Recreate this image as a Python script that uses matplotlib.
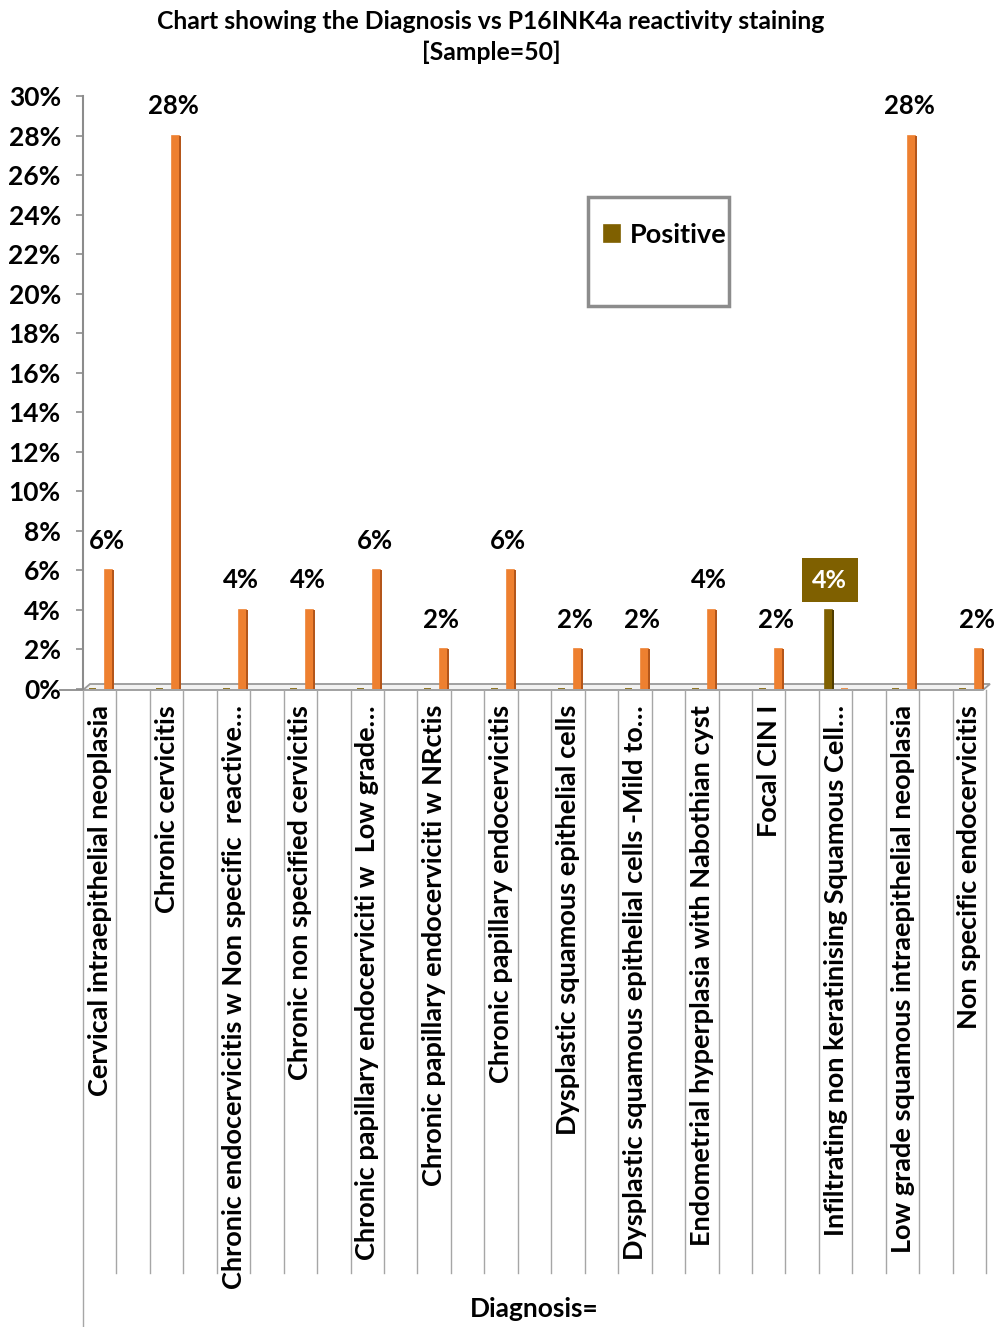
import matplotlib
matplotlib.use("Agg")
import matplotlib.pyplot as plt
from matplotlib.patches import Rectangle, Polygon
from matplotlib.lines import Line2D

plt.rcParams['font.family'] = ['Lato', 'DejaVu Sans']
plt.rcParams['font.weight'] = 'bold'

categories = [
    "Cervical intraepithelial neoplasia",
    "Chronic cervicitis",
    "Chronic endocervicitis w Non specific  reactive…",
    "Chronic non specified cervicitis",
    "Chronic papillary endocerviciti w  Low grade…",
    "Chronic papillary endocerviciti w NRctis",
    "Chronic papillary endocervicitis",
    "Dysplastic squamous epithelial cells",
    "Dysplastic squamous epithelial cells -Mild to…",
    "Endometrial hyperplasia with Nabothian cyst",
    "Focal CIN I",
    "Infiltrating non keratinising Squamous Cell…",
    "Low grade squamous intraepithelial neoplasia",
    "Non specific endocervicitis",
]
positive = [0, 0, 0, 0, 0, 0, 0, 0, 0, 0, 0, 4, 0, 0]
negative = [6, 28, 4, 4, 6, 2, 6, 2, 2, 4, 2, 0, 28, 2]
yticks = list(range(0, 31, 2))
title = "Chart showing the Diagnosis vs P16INK4a reactivity staining\n[Sample=50]"
xlabel = "Diagnosis="

W, H = 995, 1327
fig = plt.figure(figsize=(W / 100, H / 100), dpi=100)

def fx(px):
    return px / W

def fy(py):
    return 1 - py / H

ax_l, ax_r, ax_t, ax_b = 83, 990, 96, 689
ax = fig.add_axes([fx(ax_l), fy(ax_b), fx(ax_r) - fx(ax_l), fy(ax_t) - fy(ax_b)])
catw = 66.9  # px per category
ax.set_xlim(-0.5, -0.5 + (ax_r - ax_l) / catw)
ax.set_ylim(0, 30)
ppx = 1 / catw  # one pixel in data units (x)

def ay(py):
    return (ax_b - py) / (ax_b - ax_t)

n = len(categories)
xs = list(range(n))
bw = 7 * ppx
pos_x = [x - 0.5 + 10 * ppx for x in xs]
neg_x = [x - 0.5 + 26 * ppx for x in xs]

orange, orange_side = '#EE8030', '#B4561A'
olive, olive_side = '#7F6000', '#4F3C00'

# main faces
ax.bar(pos_x, positive, width=bw, color=olive, edgecolor=olive, linewidth=1.2,
       label='Positive', zorder=3)
ax.bar(neg_x, negative, width=bw, color=orange, edgecolor=orange, linewidth=1.2,
       label='_Negative', zorder=3)
# darker side faces (3D look)
ax.bar([p + bw / 2 + 1 * ppx for p in pos_x], positive, width=2 * ppx, color=olive_side,
       linewidth=0, zorder=3)
ax.bar([p + bw / 2 + 1 * ppx for p in neg_x], negative, width=2 * ppx, color=orange_side,
       linewidth=0, zorder=3)

# data labels
for x, v in zip(neg_x, negative):
    if v > 0:
        ax.text(x - 2 * ppx, v + 1.49, f"{v}%", ha='center', va='center', fontsize=18.5,
                fontweight='bold', color='black')
for x, v in zip(pos_x, positive):
    if v > 0:
        ax.text(x + 1 * ppx, v + 1.49, f"{v}%", ha='center', va='center', fontsize=18,
                fontweight='bold', color='white',
                bbox=dict(boxstyle='square,pad=0.42', facecolor=olive, edgecolor='none'))

# axes styling
for s in ['top', 'right', 'bottom']:
    ax.spines[s].set_visible(False)
ax.spines['left'].set_color('#8C8C8C')
ax.spines['left'].set_linewidth(1.5)
ax.set_yticks(yticks)
ax.set_yticklabels([f"{t}%" for t in yticks], fontsize=19, fontweight='bold')
ax.tick_params(axis='y', length=5, width=1.2, color='#8C8C8C', pad=11)
ax.set_xticks([])
ax.patch.set_alpha(0)

# floor (thin 3D slab)
tr = ax.get_xaxis_transform()
x0, x1 = ax.get_xlim()
floor = Polygon([(x0, ay(690)), (x1 - 7 * ppx, ay(690)), (x1, ay(684)),
                 (x0 + 7 * ppx, ay(684))], closed=True, transform=tr,
                facecolor='#F2F2F2', edgecolor='#9A9A9A', linewidth=1.3,
                clip_on=False, zorder=2)
ax.add_patch(floor)
ax.add_line(Line2D([x0 - 23 * ppx, x0], [ay(690), ay(690)], transform=tr,
                   color='#8C8C8C', linewidth=1.3, clip_on=False))

# category label area separators
for k in range(2 * n):
    xk = -0.5 + k * 0.5
    if xk > x1:
        break
    yb = ay(1327) if k == 0 else ay(1273)
    ax.add_line(Line2D([xk, xk], [ay(690), yb], transform=tr, color='#A6A6A6',
                       linewidth=1.0, clip_on=False))

for x, lab in zip(xs, categories):
    ax.text(x - 0.25, ay(705), lab, rotation=90, ha='center', va='top',
            fontsize=19.5, fontweight='bold', transform=tr, clip_on=False)

fig.text(fx(534), fy(1309), xlabel, ha='center', va='center', fontsize=19,
         fontweight='bold')
fig.text(fx(491), fy(37), title, ha='center', va='center', fontsize=17.8,
         fontweight='bold', linespacing=1.4)

# legend with frame
fig.add_artist(Rectangle((fx(588), fy(306)), fx(729) - fx(588), fy(197) - fy(306),
                         transform=fig.transFigure, facecolor='white',
                         edgecolor='#8C8C8C', linewidth=2.5, zorder=0))
leg = ax.legend(loc='center left', bbox_to_anchor=(fx(604), fy(235)),
                bbox_transform=fig.transFigure, frameon=False, fontsize=19.5,
                handlelength=0.6, handleheight=0.6, handletextpad=0.35,
                borderpad=0, borderaxespad=0)
for t in leg.get_texts():
    t.set_fontweight('bold')

fig.savefig("out.png", dpi=100)
